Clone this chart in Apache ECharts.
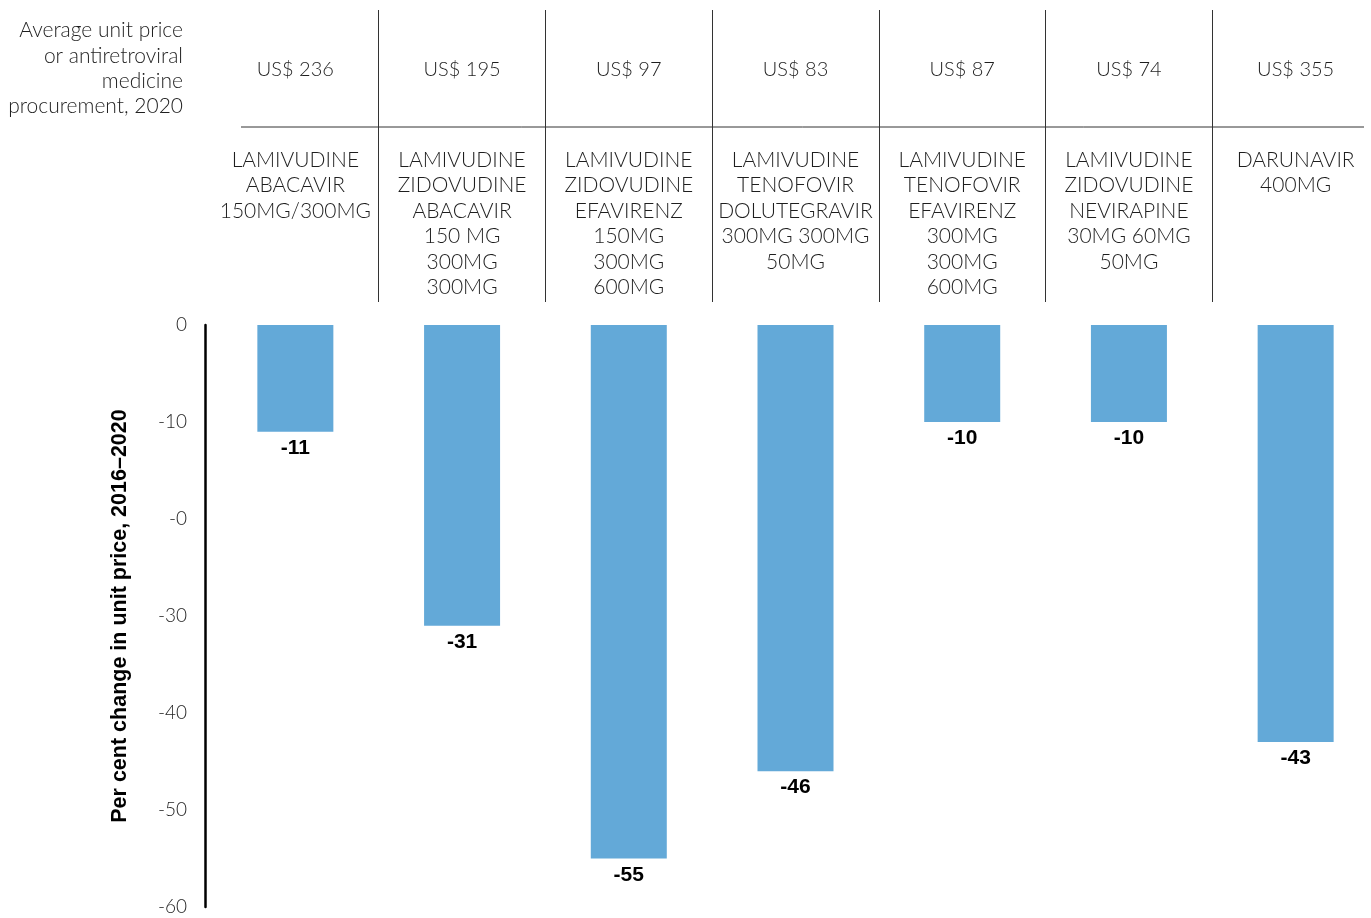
<!DOCTYPE html>
<html>
<head>
<meta charset="utf-8">
<script src="https://cdn.jsdelivr.net/npm/echarts@6/dist/echarts.min.js"></script>
<style>
html,body{margin:0;padding:0;background:#fff;overflow:hidden;width:1371px;height:918px;}
#chart{width:1384px;height:918px;}
</style>
</head>
<body>
<div id="chart"></div>
<script>
const categories = [
  'LAMIVUDINE\nABACAVIR\n150MG/300MG',
  'LAMIVUDINE\nZIDOVUDINE\nABACAVIR\n150 MG\n300MG\n300MG',
  'LAMIVUDINE\nZIDOVUDINE\nEFAVIRENZ\n150MG\n300MG\n600MG',
  'LAMIVUDINE\nTENOFOVIR\nDOLUTEGRAVIR\n300MG 300MG\n50MG',
  'LAMIVUDINE\nTENOFOVIR\nEFAVIRENZ\n300MG\n300MG\n600MG',
  'LAMIVUDINE\nZIDOVUDINE\nNEVIRAPINE\n30MG 60MG\n50MG',
  'DARUNAVIR\n400MG'
];
const prices = ['US$ 236', 'US$ 195', 'US$ 97', 'US$ 83', 'US$ 87', 'US$ 74', 'US$ 355'];
const changes = [-11, -31, -55, -46, -10, -10, -43];
const yTickLabels = ['0', '-10', '-0', '-30', '-40', '-50', '-60'];
const headerTitle = 'Average unit price\nor antiretroviral\nmedicine\nprocurement, 2020';
const yAxisTitle = 'Per cent change in unit price, 2016\u20132020';

const textColor = '#1e1e1e';
const lightFont = { fontFamily: 'Lato', fontWeight: 300, color: textColor };

const chart = echarts.init(document.getElementById('chart'));
const option = {
  animation: false,
  backgroundColor: '#fff',
  grid: [
    { left: 212, top: 325, width: 1167, height: 582 },
    { left: 212, top: 10, width: 1167, height: 292 },
    { left: 212, top: 127, width: 1167, height: 175 }
  ],
  xAxis: [
    { gridIndex: 0, type: 'category', data: categories, show: false },
    {
      gridIndex: 1, type: 'category', data: prices, position: 'top',
      axisLine: { show: false }, axisTick: { show: false },
      axisLabel: Object.assign({ inside: true, margin: 50, fontSize: 20, lineHeight: 20, interval: 0 }, lightFont),
      splitLine: { show: true, interval: function (i) { return i !== 0; }, lineStyle: { color: '#333', width: 1 } }
    },
    {
      gridIndex: 2, type: 'category', data: categories, position: 'top',
      axisLine: { show: false }, axisTick: { show: false },
      axisLabel: Object.assign({ inside: true, margin: 20, fontSize: 21, lineHeight: 25.5, interval: 0 }, lightFont),
      splitLine: { show: false }
    }
  ],
  yAxis: [
    {
      gridIndex: 0, type: 'value', min: -60, max: 0, interval: 10, offset: 7,
      axisLine: { show: true, lineStyle: { color: '#000', width: 2.5 } },
      axisTick: { show: false },
      splitLine: { show: false },
      axisLabel: Object.assign({ margin: 18, fontSize: 19, formatter: function (v) { return yTickLabels[Math.round(-v / 10)]; } }, lightFont),
      name: yAxisTitle, nameLocation: 'middle', nameGap: 74, nameRotate: 90,
      nameTextStyle: { fontFamily: 'Liberation Sans', fontWeight: 'bold', fontSize: 21.5, color: '#000' }
    },
    { gridIndex: 1, type: 'value', show: false },
    { gridIndex: 2, type: 'value', show: false }
  ],
  series: [
    {
      type: 'bar', xAxisIndex: 0, yAxisIndex: 0, data: changes, barWidth: 76,
      itemStyle: { color: '#63a9d8' },
      label: {
        show: true, position: 'bottom', distance: 6,
        fontFamily: 'Liberation Sans', fontWeight: 'bold', fontSize: 21, color: '#000'
      }
    }
  ],
  graphic: [
    {
      type: 'text', x: 183, y: 18,
      style: { text: headerTitle, textAlign: 'right', textVerticalAlign: 'top', lineHeight: 25.3, font: '300 21px Lato', fill: textColor }
    },
    {
      type: 'line', shape: { x1: 241, y1: 127, x2: 1364, y2: 127 },
      style: { stroke: '#333', lineWidth: 1 }
    }
  ]
};
chart.setOption(option);
</script>
</body>
</html>
